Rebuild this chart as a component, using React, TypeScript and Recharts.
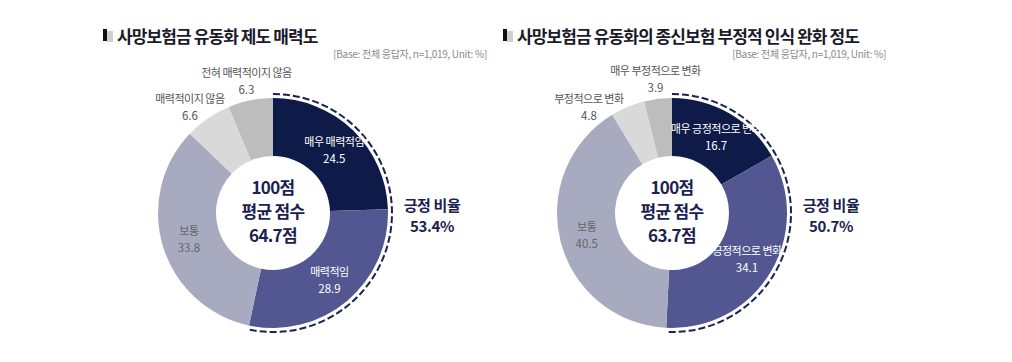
import { PieChart, Pie, Cell } from "recharts";

// 좌: 사망보험금 유동화 제도 매력도
const leftNames = ["매우 매력적임", "매력적임", "보통", "매력적이지 않음", "전혀 매력적이지 않음"];
const leftValues = [24.5, 28.9, 33.8, 6.6, 6.3];
const leftScore = "64.7";
const leftPositive = 53.4;

// 우: 종신보험 부정적 인식 완화 정도
const rightNames = ["매우 긍정적으로 변화", "긍정적으로 변화", "보통", "부정적으로 변화", "매우 부정적으로 변화"];
const rightValues = [16.7, 34.1, 40.5, 4.8, 3.9];
const rightScore = "63.7";
const rightPositive = 50.7;

const titles = ["사망보험금 유동화 제도 매력도", "사망보험금 유동화의 종신보험 부정적 인식 완화 정도"];
const baseNote = "[Base: 전체 응답자, n=1,019, Unit: %]";

const SLICE_COLORS = ["#0e1a47", "#535791", "#a8aac0", "#d9d9d9", "#bdbdbd"];
const NAVY = "#1b2150";
const FONT = '"Noto Sans CJK KR", "Noto Sans", sans-serif';
const RAD = Math.PI / 180;

const W = 1012;
const H = 362;
const CENTERS = [
  { x: 273, y: 213 },
  { x: 672, y: 213 },
];
const OUTER = 115;
const INNER = 57;

const toRows = (names: string[], values: number[]) =>
  names.map((name, i) => ({ name, value: values[i] }));

const leftData = toRows(leftNames, leftValues);
const rightData = toRows(rightNames, rightValues);
const shareRows = (p: number) => [
  { name: "pos", value: p },
  { name: "rest", value: +(100 - p).toFixed(1) },
];

function renderLabel(props: any) {
  const { cx, cy, midAngle, innerRadius, outerRadius, index, payload, value } = props;
  const outside = value < 10;
  // small slices at the top: the one next to 12 o'clock keeps its angle,
  // the other one is pushed out to the left so the two labels don't collide
  let angle = midAngle;
  if (outside && index < 4) angle = Math.max(midAngle, 128);
  const cos = Math.cos(-angle * RAD);
  const sin = Math.sin(-angle * RAD);
  const r = outside ? outerRadius + 20 : (innerRadius + outerRadius) / 2 + 2;
  const x = cx + r * cos;
  const y = cy + r * sin;
  const color = index < 2 && !outside ? "#ffffff" : outside ? "#555555" : "#666666";
  return (
    <text x={x} y={y} textAnchor="middle" fill={color} fontFamily={FONT}>
      <tspan x={x} dy={-4} fontSize={11} letterSpacing={-0.5}>
        {payload.name}
      </tspan>
      <tspan x={x} dy={17} fontSize={11.5}>
        {value}
      </tspan>
    </text>
  );
}

// dashed arc hugging the positive slices
function DashedArc(props: any) {
  const { cx, cy, startAngle, endAngle, outerRadius, payload } = props;
  if (payload?.name !== "pos") return <g />;
  const r = outerRadius;
  const x0 = cx + r * Math.cos(-startAngle * RAD);
  const y0 = cy + r * Math.sin(-startAngle * RAD);
  const x1 = cx + r * Math.cos(-endAngle * RAD);
  const y1 = cy + r * Math.sin(-endAngle * RAD);
  const large = Math.abs(startAngle - endAngle) > 180 ? 1 : 0;
  return (
    <path
      d={`M${x0},${y0} A${r},${r} 0 ${large} 1 ${x1},${y1}`}
      fill="none"
      stroke={NAVY}
      strokeWidth={2}
      strokeDasharray="7 3"
    />
  );
}

function Header({ left, title }: { left: number; title: string }) {
  return (
    <>
      <div style={{ position: "absolute", left, top: 29, width: 4, height: 12, background: "#111" }} />
      <div style={{ position: "absolute", left: left + 4, top: 31, width: 6, height: 11, background: "#cfcfcf" }} />
      <div
        style={{
          position: "absolute",
          left: left + 14,
          top: 23,
          fontSize: 17,
          fontWeight: 700,
          letterSpacing: -0.9,
          color: "#1a1a2a",
          whiteSpace: "nowrap",
        }}
      >
        {title}
      </div>
    </>
  );
}

function CenterText({ cx, cy, score }: { cx: number; cy: number; score: string }) {
  return (
    <div
      style={{
        position: "absolute",
        left: cx - 50,
        top: cy - 38,
        width: 100,
        textAlign: "center",
        fontSize: 17,
        fontWeight: 700,
        lineHeight: "24px",
        letterSpacing: -0.7,
        color: NAVY,
      }}
    >
      <div>100점</div>
      <div>평균 점수</div>
      <div>{score}점</div>
    </div>
  );
}

function ShareText({ cx, cy, share }: { cx: number; cy: number; share: number }) {
  return (
    <div
      style={{
        position: "absolute",
        left: cx + 119,
        top: cy - 19,
        width: 80,
        textAlign: "center",
        fontSize: 15,
        fontWeight: 700,
        lineHeight: "21px",
        letterSpacing: -0.4,
        color: NAVY,
      }}
    >
      <div>긍정 비율</div>
      <div>{share.toFixed(1)}%</div>
    </div>
  );
}

export default function App() {
  return (
    <div
      style={{
        position: "absolute",
        left: 0,
        top: 0,
        width: W,
        height: H,
        background: "#ffffff",
        fontFamily: FONT,
        overflow: "hidden",
      }}
    >
      <Header left={103} title={titles[0]} />
      <Header left={503} title={titles[1]} />
      <div style={{ position: "absolute", right: W - 487, top: 46, fontSize: 10, color: "#8a8a8a", letterSpacing: -0.3, whiteSpace: "nowrap" }}>
        {baseNote}
      </div>
      <div style={{ position: "absolute", right: W - 886, top: 46, fontSize: 10, color: "#8a8a8a", letterSpacing: -0.3, whiteSpace: "nowrap" }}>
        {baseNote}
      </div>

      <div style={{ position: "absolute", left: 0, top: 0 }}>
        <PieChart width={W} height={H} margin={{ top: 0, right: 0, bottom: 0, left: 0 }}>
          <Pie
            data={leftData}
            dataKey="value"
            nameKey="name"
            cx={CENTERS[0].x}
            cy={CENTERS[0].y}
            innerRadius={INNER}
            outerRadius={OUTER}
            startAngle={90}
            endAngle={-270}
            stroke="none"
            label={renderLabel}
            labelLine={false}
            isAnimationActive={false}
          >
            {leftData.map((d, i) => (
              <Cell key={d.name} fill={SLICE_COLORS[i]} />
            ))}
          </Pie>
          <Pie
            data={rightData}
            dataKey="value"
            nameKey="name"
            cx={CENTERS[1].x}
            cy={CENTERS[1].y}
            innerRadius={INNER}
            outerRadius={OUTER}
            startAngle={90}
            endAngle={-270}
            stroke="none"
            label={renderLabel}
            labelLine={false}
            isAnimationActive={false}
          >
            {rightData.map((d, i) => (
              <Cell key={d.name} fill={SLICE_COLORS[i]} />
            ))}
          </Pie>
          <Pie
            data={shareRows(leftPositive)}
            dataKey="value"
            cx={CENTERS[0].x}
            cy={CENTERS[0].y}
            innerRadius={OUTER + 3}
            outerRadius={OUTER + 4}
            startAngle={90}
            endAngle={-270}
            shape={DashedArc}
            isAnimationActive={false}
          />
          <Pie
            data={shareRows(rightPositive)}
            dataKey="value"
            cx={CENTERS[1].x}
            cy={CENTERS[1].y}
            innerRadius={OUTER + 3}
            outerRadius={OUTER + 4}
            startAngle={90}
            endAngle={-270}
            shape={DashedArc}
            isAnimationActive={false}
          />
        </PieChart>
      </div>

      <CenterText cx={CENTERS[0].x} cy={CENTERS[0].y} score={leftScore} />
      <CenterText cx={CENTERS[1].x} cy={CENTERS[1].y} score={rightScore} />
      <ShareText cx={CENTERS[0].x} cy={CENTERS[0].y} share={leftPositive} />
      <ShareText cx={CENTERS[1].x} cy={CENTERS[1].y} share={rightPositive} />
    </div>
  );
}
